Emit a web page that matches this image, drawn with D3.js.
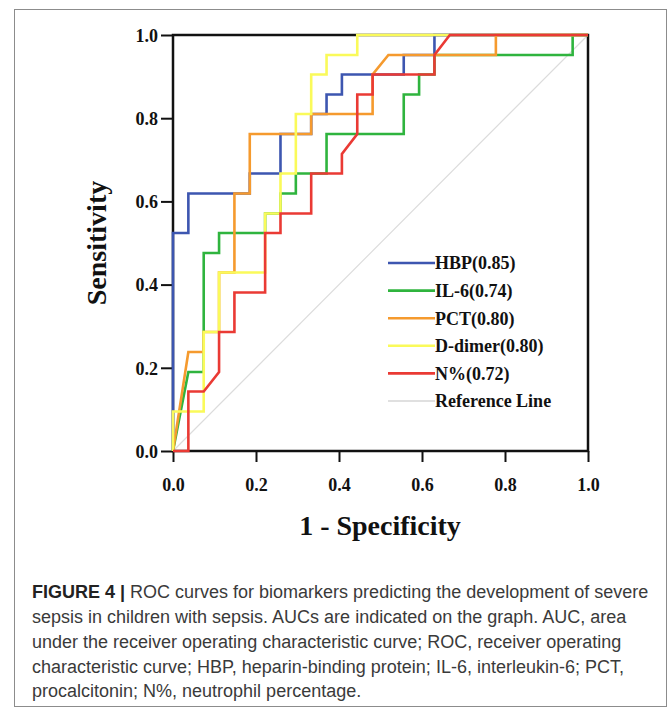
<!DOCTYPE html>
<html>
<head>
<meta charset="utf-8">
<script src="https://cdn.jsdelivr.net/npm/d3@7/dist/d3.min.js"></script>
<style>
  html, body { margin: 0; padding: 0; background: #fff; }
  svg { display: block; }
</style>
</head>
<body>
<script>
// ROC curves, values (1 - specificity, sensitivity).
var hbpX = [0, 0, 0.037, 0.037, 0.185, 0.185, 0.259, 0.259, 0.333, 0.333, 0.370, 0.370, 0.407, 0.407, 0.556, 0.556, 0.630, 0.630, 1];
var hbpY = [0, 0.524, 0.524, 0.619, 0.619, 0.667, 0.667, 0.762, 0.762, 0.810, 0.810, 0.857, 0.857, 0.905, 0.905, 0.952, 0.952, 1, 1];

var il6X = [0, 0.037, 0.074, 0.074, 0.111, 0.111, 0.222, 0.222, 0.259, 0.259, 0.296, 0.296, 0.370, 0.370, 0.556, 0.556, 0.593, 0.593, 0.630, 0.630, 0.963, 0.963, 1];
var il6Y = [0, 0.190, 0.190, 0.476, 0.476, 0.524, 0.524, 0.571, 0.571, 0.619, 0.619, 0.667, 0.667, 0.762, 0.762, 0.857, 0.857, 0.905, 0.905, 0.952, 0.952, 1, 1];

var pctX = [0, 0.037, 0.074, 0.074, 0.111, 0.111, 0.148, 0.148, 0.185, 0.185, 0.333, 0.333, 0.481, 0.481, 0.519, 0.778, 0.778, 1];
var pctY = [0, 0.238, 0.238, 0.286, 0.286, 0.429, 0.429, 0.619, 0.619, 0.762, 0.762, 0.810, 0.810, 0.905, 0.952, 0.952, 1, 1];

var ddX = [0, 0, 0.074, 0.074, 0.111, 0.111, 0.222, 0.222, 0.259, 0.259, 0.296, 0.296, 0.333, 0.333, 0.370, 0.370, 0.444, 0.444, 1];
var ddY = [0, 0.095, 0.095, 0.286, 0.286, 0.429, 0.429, 0.571, 0.571, 0.667, 0.667, 0.810, 0.810, 0.905, 0.905, 0.952, 0.952, 1, 1];

var neuX = [0, 0.037, 0.037, 0.074, 0.111, 0.111, 0.148, 0.148, 0.222, 0.222, 0.259, 0.259, 0.333, 0.333, 0.407, 0.407, 0.444, 0.444, 0.481, 0.481, 0.630, 0.630, 0.667, 1];
var neuY = [0, 0, 0.143, 0.143, 0.190, 0.286, 0.286, 0.381, 0.381, 0.524, 0.524, 0.571, 0.571, 0.667, 0.667, 0.714, 0.762, 0.857, 0.857, 0.905, 0.905, 0.952, 1, 1];

var seriesNames = ['HBP(0.85)', 'IL-6(0.74)', 'PCT(0.80)', 'D-dimer(0.80)', 'N%(0.72)'];
var seriesColors = ['#3d56b0', '#2fb43e', '#f59a2e', '#fafa5a', '#ea3a34'];
var seriesX = [hbpX, il6X, pctX, ddX, neuX];
var seriesY = [hbpY, il6Y, pctY, ddY, neuY];

var ticks = [0, 0.2, 0.4, 0.6, 0.8, 1.0];

var captionLines = [
	'sepsis in children with sepsis. AUCs are indicated on the graph. AUC, area',
	'under the receiver operating characteristic curve; ROC, receiver operating',
	'characteristic curve; HBP, heparin-binding protein; IL-6, interleukin-6; PCT,',
	'procalcitonin; N%, neutrophil percentage.'
];

var width = 669, height = 712;
var serif = '"Liberation Serif", "Times New Roman", serif';

var svg = d3.select('body').append('svg')
	.attr('width', width)
	.attr('height', height);

// outer frame
svg.append('rect')
	.attr('x', 14.5).attr('y', 9.5)
	.attr('width', 652).attr('height', 697)
	.attr('fill', 'none')
	.attr('stroke', '#8c8c8c')
	.attr('stroke-width', 1);

var x = d3.scaleLinear().domain([0, 1]).range([173, 588]);
var y = d3.scaleLinear().domain([0, 1]).range([451, 35]);

// reference line
svg.append('line')
	.attr('x1', x(0)).attr('y1', y(0))
	.attr('x2', x(1)).attr('y2', y(1))
	.attr('stroke', '#dcdcdc')
	.attr('stroke-width', 1.2);

// box
svg.append('rect')
	.attr('x', x(0)).attr('y', y(1))
	.attr('width', x(1) - x(0)).attr('height', y(0) - y(1))
	.attr('fill', 'none')
	.attr('stroke', '#111')
	.attr('stroke-width', 2.5);

var xAxis = svg.append('g')
	.attr('transform', 'translate(0,' + y(0) + ')')
	.call(d3.axisBottom(x).tickValues(ticks).tickFormat(d3.format('.1f')).tickSize(11).tickPadding(16));
var yAxis = svg.append('g')
	.attr('transform', 'translate(' + x(0) + ',0)')
	.call(d3.axisLeft(y).tickValues(ticks).tickFormat(d3.format('.1f')).tickSize(12).tickPadding(3));

[xAxis, yAxis].forEach(function(ax) {
	ax.select('.domain').remove();
	ax.selectAll('.tick line').attr('stroke', '#111').attr('stroke-width', 2);
	ax.selectAll('.tick text')
		.attr('fill', '#111')
		.style('font-family', serif)
		.style('font-weight', 'bold')
		.style('font-size', '18px');
});
yAxis.selectAll('.tick text').attr('dy', '0.35em');

// curves
var line = d3.line()
	.x(function(d) { return x(d[0]); })
	.y(function(d) { return y(d[1]); });

seriesX.forEach(function(xs, k) {
	var pts = xs.map(function(v, i) { return [v, seriesY[k][i]]; });
	svg.append('path')
		.attr('d', line(pts))
		.attr('fill', 'none')
		.attr('stroke', seriesColors[k])
		.attr('stroke-width', 2.6)
		.attr('stroke-linejoin', 'miter');
});

// legend
var legend = svg.append('g').attr('transform', 'translate(388,263)');
var legendNames = seriesNames.concat(['Reference Line']);
var legendColors = seriesColors.concat(['#d6d6d6']);
legendNames.forEach(function(name, i) {
	var row = legend.append('g').attr('transform', 'translate(0,' + (i * 27.6) + ')');
	row.append('line')
		.attr('x1', 0).attr('x2', 47)
		.attr('stroke', legendColors[i])
		.attr('stroke-width', i < 5 ? 2.6 : 1.5);
	row.append('text')
		.attr('x', 47).attr('dy', '0.35em')
		.style('font-family', serif)
		.style('font-weight', 'bold')
		.style('font-size', '18px')
		.attr('fill', '#111')
		.text(name);
});

// axis titles
svg.append('text')
	.attr('transform', 'translate(106,243) rotate(-90)')
	.attr('text-anchor', 'middle')
	.style('font-family', serif)
	.style('font-weight', 'bold')
	.style('font-size', '28px')
	.attr('fill', '#111')
	.text('Sensitivity');

svg.append('text')
	.attr('x', 380).attr('y', 535)
	.attr('text-anchor', 'middle')
	.style('font-family', serif)
	.style('font-weight', 'bold')
	.style('font-size', '28px')
	.attr('fill', '#111')
	.text('1 - Specificity');

// caption
var sans = '"Liberation Sans", Arial, sans-serif';
var cap = svg.append('g').style('font-family', sans).style('font-size', '18px').attr('fill', '#3a3a3a');
var first = cap.append('text').attr('x', 32).attr('y', 598);
first.append('tspan').style('font-weight', 'bold').attr('fill', '#222').text('FIGURE 4 | ');
first.append('tspan').text('ROC curves for biomarkers predicting the development of severe');
captionLines.forEach(function(t, i) {
	cap.append('text')
		.attr('x', 32).attr('y', 623 + i * 24.8)
		.text(t);
});
</script>
</body>
</html>
